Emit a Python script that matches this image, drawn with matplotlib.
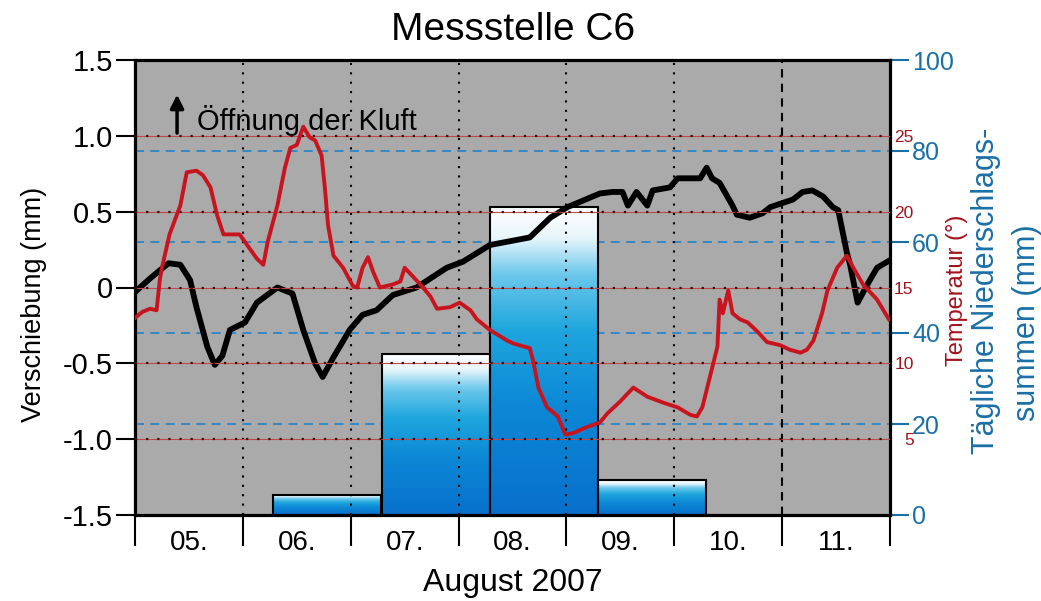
import matplotlib
matplotlib.use("Agg")
import matplotlib.pyplot as plt
import numpy as np
from matplotlib.colors import LinearSegmentedColormap
from matplotlib.patches import Rectangle

plt.rcParams['font.family'] = ['Liberation Sans', 'DejaVu Sans']

# Verschiebung (mm), x = Tage ab 05.08.2007 00:00
disp_day = [0.00, 0.14, 0.31, 0.42, 0.51, 0.57, 0.67, 0.74, 0.81, 0.88, 1.02, 1.13,
            1.32, 1.46, 1.56, 1.67, 1.74, 1.84, 1.99, 2.11, 2.24, 2.39, 2.61, 2.89,
            3.04, 3.29, 3.66, 3.85, 4.01, 4.31, 4.43, 4.52, 4.57, 4.65, 4.75, 4.80,
            4.96, 5.03, 5.24, 5.30, 5.35, 5.42, 5.54, 5.58, 5.70, 5.82, 5.89, 6.10,
            6.19, 6.28, 6.38, 6.47, 6.52, 6.60, 6.63, 6.70, 6.79, 6.88, 7.00]
disp_mm = [-0.03, 0.06, 0.16, 0.15, 0.05, -0.13, -0.39, -0.51, -0.45, -0.28, -0.23, -0.10,
           0.00, -0.04, -0.28, -0.50, -0.59, -0.46, -0.28, -0.18, -0.15, -0.05, 0.00, 0.13,
           0.17, 0.28, 0.33, 0.46, 0.53, 0.62, 0.63, 0.63, 0.54, 0.63, 0.54, 0.64,
           0.66, 0.72, 0.72, 0.79, 0.72, 0.69, 0.54, 0.48, 0.46, 0.49, 0.53, 0.58,
           0.63, 0.64, 0.60, 0.53, 0.51, 0.23, 0.15, -0.10, 0.02, 0.13, 0.18]

# Temperatur (°C)
temp_day = [0.00, 0.07, 0.14, 0.20, 0.23, 0.25, 0.32, 0.42, 0.48, 0.57, 0.63, 0.70,
            0.76, 0.82, 0.88, 0.97, 1.04, 1.13, 1.19, 1.23, 1.32, 1.39, 1.44, 1.50,
            1.56, 1.62, 1.67, 1.73, 1.76, 1.79, 1.84, 1.93, 2.02, 2.06, 2.11, 2.16,
            2.21, 2.27, 2.39, 2.46, 2.50, 2.58, 2.67, 2.74, 2.80, 2.92, 3.01, 3.11,
            3.17, 3.29, 3.45, 3.51, 3.66, 3.69, 3.74, 3.82, 3.92, 3.99, 4.06, 4.19,
            4.31, 4.38, 4.50, 4.62, 4.75, 4.90, 5.03, 5.15, 5.21, 5.26, 5.33, 5.40,
            5.42, 5.45, 5.50, 5.54, 5.61, 5.68, 5.77, 5.86, 5.98, 6.07, 6.17, 6.23,
            6.29, 6.37, 6.42, 6.51, 6.60, 6.66, 6.75, 6.88, 6.99]
temp_c = [13.0, 13.4, 13.6, 13.5, 15.5, 16.3, 18.5, 20.4, 22.6, 22.7, 22.4, 21.6,
          19.8, 18.5, 18.5, 18.5, 17.8, 16.9, 16.5, 18.0, 20.4, 22.9, 24.2, 24.4,
          25.6, 24.9, 24.7, 23.7, 21.6, 19.1, 17.1, 16.3, 15.1, 15.0, 16.3, 17.0,
          16.0, 15.0, 15.2, 15.4, 16.3, 15.7, 15.0, 14.4, 13.6, 13.7, 14.0, 13.5,
          12.9, 12.2, 11.5, 11.3, 11.0, 10.2, 8.4, 7.1, 6.5, 5.3, 5.4, 5.8,
          6.1, 6.7, 7.5, 8.4, 7.8, 7.4, 7.1, 6.6, 6.5, 7.1, 9.1, 11.1,
          14.2, 13.3, 14.8, 13.3, 12.9, 12.7, 12.1, 11.4, 11.2, 10.9, 10.7, 10.9,
          11.5, 13.3, 14.8, 16.3, 17.1, 16.3, 15.2, 14.2, 12.9]

# Tägliche Niederschlagssummen (mm)
rain_start = [1.28, 2.29, 3.29, 4.29]
rain_mm = [4.4, 35.4, 67.7, 7.6]
rain_width = 1.0

day_labels = ['05.', '06.', '07.', '08.', '09.', '10.', '11.']

BLUE = '#1a6fa6'
RED = '#a3121c'

fig = plt.figure(figsize=(10.41, 6.01), dpi=100)
ax_p = fig.add_axes([135 / 1041, 86 / 601, 755 / 1041, 455 / 601])
ax_p.set_facecolor('#aaaaaa')
ax = ax_p.twinx()
ax_t = ax_p.twinx()

# precipitation axis (base)
ax_p.set_xlim(0, 7)
ax_p.set_ylim(0, 100)
for p in [20, 40, 60, 80]:
    ax_p.axhline(p, color='#2a86c8', lw=1.3, ls=(0, (5, 3.5)), zorder=1)

cmap = LinearSegmentedColormap.from_list('rain', [
    (0.0, '#0870cc'), (0.35, '#0c88d6'), (0.6, '#1fa6dd'),
    (0.78, '#6cc8ec'), (0.9, '#e8f6fc'), (1.0, '#ffffff')])
grad = np.linspace(0, 1, 256).reshape(-1, 1)
for x0, h in zip(rain_start, rain_mm):
    ax_p.imshow(grad, cmap=cmap, origin='lower', aspect='auto',
                extent=[x0, x0 + rain_width, 0, h], zorder=2)
    ax_p.add_patch(Rectangle((x0, 0), rain_width, h, fill=False,
                             edgecolor='black', lw=1.5, zorder=3))
ax_p.set_xlim(0, 7)
ax_p.set_ylim(0, 100)

for d in range(1, 7):
    ax_p.axvline(d, color='black', lw=1.5,
                 ls=(0, (4, 3)) if d == 6 else (0, (1, 3.5)), zorder=4)

ax_p.yaxis.tick_right()
ax_p.set_yticks([0, 20, 40, 60, 80, 100])
ax_p.tick_params(axis='y', colors=BLUE, labelcolor=BLUE, length=14, width=1.5,
                 labelsize=18, pad=2)
ax_p.set_xticks(range(8))
ax_p.set_xticklabels([])
ax_p.set_xticks(np.arange(0.5, 7, 1), minor=True)
ax_p.set_xticklabels(day_labels, minor=True)
ax_p.tick_params(axis='x', which='major', length=22, width=1.5, direction='out')
ax_p.tick_params(axis='x', which='minor', length=0, pad=11, labelsize=20)
for s in ax_p.spines.values():
    s.set_linewidth(2.3)

# displacement axis (left)
ax.set_ylim(-1.5, 1.5)
ax.yaxis.tick_left()
ax.set_yticks([-1.5, -1.0, -0.5, 0, 0.5, 1.0, 1.5])
ax.set_yticklabels(['-1.5', '-1.0', '-0.5', '0', '0.5', '1.0', '1.5'])
ax.tick_params(axis='y', length=14, width=1.5, labelsize=21, pad=2)
for s in ax.spines.values():
    s.set_visible(False)
ax.plot(disp_day, disp_mm, color='black', lw=4.2, solid_joinstyle='round', zorder=5)
ax.annotate('', xy=(0.39, 1.29), xytext=(0.39, 1.0),
            arrowprops=dict(arrowstyle='-|>', lw=2.5, color='black', mutation_scale=20))
ax.text(0.575, 1.038, 'Öffnung der Kluft', fontsize=21, va='baseline', ha='left')

# temperature axis
ax_t.set_ylim(0, 30)
for t in [5, 10, 15, 20, 25]:
    ax_t.axhline(t, color='#c04848', lw=0.8, zorder=1)
    ax_t.axhline(t, color='#3a0a0a', lw=1.6, ls=(0, (1, 4)), zorder=1)
ax_t.set_yticks([5, 10, 15, 20, 25])
ax_t.tick_params(axis='y', length=0, labelsize=12.5, labelcolor=RED, pad=17)
for lab in ax_t.get_yticklabels():
    lab.set_horizontalalignment('right')
for s in ax_t.spines.values():
    s.set_visible(False)
ax_t.plot(temp_day, temp_c, color='#c8141e', lw=2.8, zorder=6)

# labels
fig.text(513 / 1041, 1 - 40 / 601, 'Messstelle C6', fontsize=28, ha='center', va='baseline')
fig.text(513 / 1041, 1 - 591 / 601, 'August 2007', fontsize=23, ha='center', va='baseline')
fig.text(34 / 1041, 1 - 304 / 601, 'Verschiebung (mm)', fontsize=19.5, rotation=90,
         ha='center', va='center')
fig.text(957 / 1041, 1 - 290 / 601, 'Temperatur (°)', fontsize=17, rotation=90,
         ha='center', va='center', color=RED)
fig.text(986 / 1041, 1 - 291 / 601, 'Tägliche Niederschlags-', fontsize=22, rotation=90,
         ha='center', va='center', color=BLUE)
fig.text(1027 / 1041, 1 - 323 / 601, 'summen (mm)', fontsize=22, rotation=90,
         ha='center', va='center', color=BLUE)

fig.savefig('out.png', dpi=100)
